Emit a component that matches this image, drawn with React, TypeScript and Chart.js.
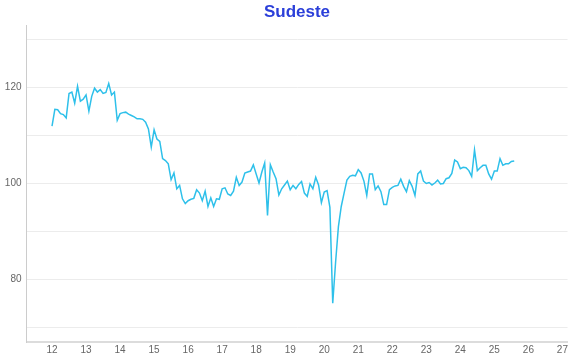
import { useEffect, useRef } from 'react';
import { Chart, registerables } from 'chart.js';

Chart.register(...registerables);

// Monthly index, Jan 2012 .. Aug 2025 (x axis shows two-digit years)
const START_YEAR = 12;
const values: number[] = [
  // 2012
  112.0, 115.5, 115.4, 114.6, 114.4, 113.7, 118.8, 119.1, 116.8, 120.3, 117.2, 117.6,
  // 2013
  118.5, 115.1, 118.2, 119.9, 119.1, 119.6, 118.8, 119.0, 120.9, 118.5, 119.1, 113.2,
  // 2014
  114.6, 114.8, 114.9, 114.5, 114.2, 113.9, 113.5, 113.5, 113.4, 112.8, 111.4, 107.6,
  // 2015
  111.2, 109.3, 108.8, 105.2, 104.8, 104.1, 100.8, 102.2, 98.9, 99.6, 96.8, 95.8,
  // 2016
  96.4, 96.7, 96.9, 98.7, 98.0, 96.4, 98.4, 95.2, 97.0, 95.2, 96.8, 96.7,
  // 2017
  98.9, 99.1, 97.8, 97.5, 98.4, 101.3, 99.6, 100.3, 102.2, 102.4, 102.6, 103.9,
  // 2018
  102.0, 100.1, 102.4, 104.3, 93.3, 103.9, 102.4, 101.0, 97.6, 98.9, 99.7, 100.5,
  // 2019
  98.7, 99.6, 98.9, 99.8, 100.4, 98.0, 97.3, 99.9, 98.9, 101.3, 99.7, 96.0,
  // 2020
  98.2, 98.5, 95.0, 75.0, 83.5, 91.0, 95.2, 98.0, 100.7, 101.5, 101.7, 101.6,
  // 2021
  102.9, 102.2, 100.5, 97.5, 102.0, 102.0, 98.7, 99.5, 98.3, 95.6, 95.6, 98.7,
  // 2022
  99.2, 99.5, 99.6, 100.9, 99.4, 98.3, 100.6, 99.4, 97.5, 102.0, 102.6, 100.5,
  // 2023
  100.0, 100.2, 99.7, 100.1, 100.7, 99.9, 100.0, 101.0, 101.2, 102.1, 104.9, 104.5,
  // 2024
  103.1, 103.4, 103.3, 102.7, 101.5, 107.0, 102.7, 103.3, 103.8, 103.8, 102.0, 100.9,
  // 2025
  102.6, 102.6, 105.2, 103.8, 104.1, 104.1, 104.6, 104.7,
];

const xTicks = [12, 13, 14, 15, 16, 17, 18, 19, 20, 21, 22, 23, 24, 25, 26, 27];
const yGrid = [70, 80, 90, 100, 110, 120, 130];
const yLabels = [80, 100, 120];

const TITLE = 'Sudeste';

export default function App() {
  const ref = useRef<HTMLCanvasElement | null>(null);

  useEffect(() => {
    document.body.style.margin = '0';
    const points = values.map((v, i) => ({ x: START_YEAR + i / 12, y: v }));
    const chart = new Chart(ref.current as HTMLCanvasElement, {
      type: 'line',
      data: {
        datasets: [
          {
            data: points,
            borderColor: '#2ec0ea',
            borderWidth: 1.5,
            pointRadius: 0,
            tension: 0,
            fill: false,
          },
        ],
      },
      options: {
        animation: false,
        responsive: false,
        maintainAspectRatio: false,
        layout: { padding: 0 },
        plugins: {
          legend: { display: false },
          tooltip: { enabled: false },
          title: {
            display: true,
            text: TITLE,
            color: '#2b3fd9',
            fullSize: false,
            font: { family: 'Liberation Sans', size: 17, weight: 'bold' },
            padding: { top: 2, bottom: 2.6 },
          },
        },
        scales: {
          x: {
            type: 'linear',
            min: 11.25,
            max: 27.15,
            afterBuildTicks: (s: any) => {
              s.ticks = xTicks.map((v) => ({ value: v }));
            },
            afterFit: (s: any) => {
              s.height = 18;
            },
            grid: { display: false, drawTicks: false },
            border: { display: true, color: '#dcdcdc', width: 2 },
            ticks: {
              padding: 2,
              color: '#666',
              font: { family: 'Liberation Sans', size: 10 },
              maxRotation: 0,
              autoSkip: false,
              callback: (v: any) => String(v),
            },
          },
          y: {
            type: 'linear',
            min: 66.9,
            max: 133.1,
            afterBuildTicks: (s: any) => {
              s.ticks = yGrid.map((v) => ({ value: v }));
            },
            afterFit: (s: any) => {
              s.width = 26.5;
            },
            grid: { color: '#ececec', lineWidth: 1, drawTicks: false },
            border: { display: true, color: '#cccccc', width: 1 },
            ticks: {
              padding: 5,
              color: '#666',
              font: { family: 'Liberation Sans', size: 10 },
              autoSkip: false,
              callback: (v: any) => (yLabels.includes(Number(v)) ? String(v) : ''),
            },
          },
        },
      },
    });
    return () => chart.destroy();
  }, []);

  return <canvas ref={ref} width={570} height={360} style={{ display: 'block' }} />;
}
